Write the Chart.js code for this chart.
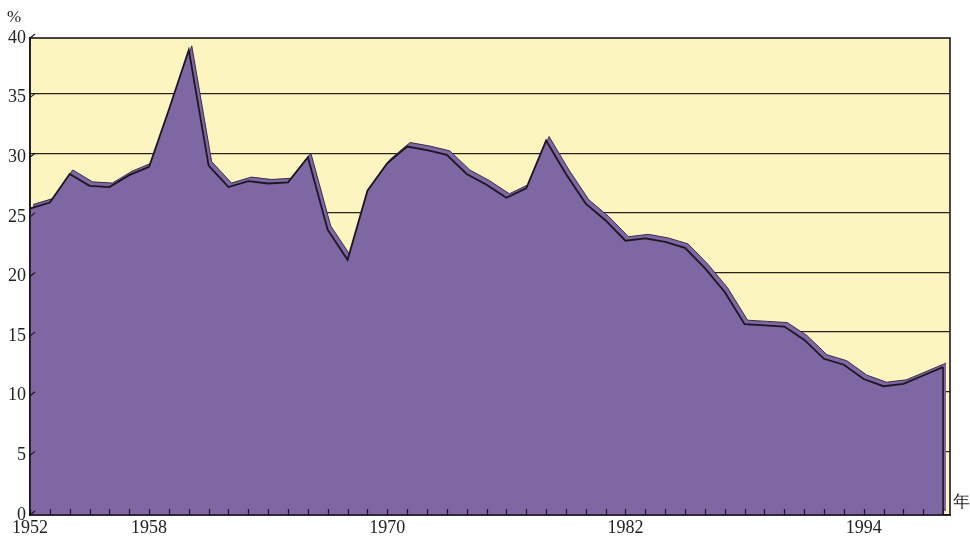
<!DOCTYPE html>
<html>
<head>
<meta charset="utf-8">
<script src="https://cdn.jsdelivr.net/npm/chart.js@4"></script>
<style>
	html, body { margin: 0; padding: 0; background: #ffffff; }
	#wrap { width: 970px; height: 539px; }
</style>
</head>
<body>
<div id="wrap"><canvas id="myChart" width="970" height="539"></canvas></div>
<script>
var years = [1952, 1953, 1954, 1955, 1956, 1957, 1958, 1959, 1960, 1961, 1962, 1963, 1964, 1965, 1966, 1967,
	1968, 1969, 1970, 1971, 1972, 1973, 1974, 1975, 1976, 1977, 1978, 1979, 1980, 1981, 1982, 1983,
	1984, 1985, 1986, 1987, 1988, 1989, 1990, 1991, 1992, 1993, 1994, 1995, 1996, 1997, 1998];
var rate = [25.7, 26.2, 28.6, 27.6, 27.5, 28.5, 29.2, 34.0, 39.0, 29.3, 27.5, 28.0, 27.8, 27.9, 30.0, 23.9,
	21.4, 27.2, 29.5, 30.9, 30.6, 30.2, 28.6, 27.7, 26.6, 27.4, 31.4, 28.6, 26.1, 24.7, 23.0, 23.2,
	22.9, 22.4, 20.7, 18.7, 16.0, 15.9, 15.8, 14.7, 13.1, 12.6, 11.4, 10.8, 11.0, 11.7, 12.4];
var labelYears = [1952, 1958, 1970, 1982, 1994];
var yTicks = [0, 5, 10, 15, 20, 25, 30, 35, 40];
var gridValues = [5, 10, 15, 20, 25, 30, 35];
var unitY = "%";
var unitX = "年";

var purple = "#7e67a2";
var paper = "#fcf5bf";
var ink = "#1c1622";
var serif = "'Liberation Serif', 'DejaVu Serif', serif";

// 3D depth of the back layer in pixels (right, up)
var depthX = 3;
var depthY = 4;

let points = years.map(function (y, i) {
	return { x: y, y: rate[i] };
});

var framePlugin = {
	id: "frame",
	beforeDraw: function (chart) {
		var a = chart.chartArea;
		var ctx = chart.ctx;
		ctx.save();
		ctx.fillStyle = paper;
		ctx.fillRect(a.left, a.top, a.right - a.left, a.bottom - a.top);
		ctx.restore();
	},
	afterDatasetsDraw: function (chart) {
		var a = chart.chartArea;
		var ctx = chart.ctx;
		var xs = chart.scales.x;
		var ys = chart.scales.y;
		ctx.save();
		ctx.strokeStyle = ink;
		ctx.lineWidth = 1.2;
		ctx.beginPath();
		xs.ticks.forEach(function (t) {
			var px = Math.round(xs.getPixelForValue(t.value)) + 0.5;
			ctx.moveTo(px, a.bottom);
			ctx.lineTo(px, a.bottom - 6);
		});
		ys.ticks.forEach(function (t) {
			var py = ys.getPixelForValue(t.value);
			ctx.moveTo(a.left, py);
			ctx.lineTo(a.left + depthX + 2, py - depthY);
		});
		ctx.stroke();
		// closing edge of the front face
		var last = points[points.length - 1];
		var ex = xs.getPixelForValue(last.x);
		ctx.lineWidth = 1.6;
		ctx.beginPath();
		ctx.moveTo(ex, ys.getPixelForValue(last.y));
		ctx.lineTo(ex, a.bottom);
		ctx.stroke();
		ctx.strokeRect(a.left, a.top, a.right - a.left, a.bottom - a.top);
		ctx.fillStyle = "#222";
		ctx.font = "17px " + serif;
		ctx.textAlign = "left";
		ctx.textBaseline = "middle";
		ctx.fillText(unitY, 7, 18);
		ctx.fillText(unitX, a.right + 3, a.bottom - 12);
		ctx.restore();
	}
};

let chartCtx = document.querySelector("#myChart").getContext("2d");
let rateChart = new Chart(chartCtx, {
	type: "line",
	data: {
		datasets: [
			{
				label: "front",
				data: points,
				xAxisID: "x",
				yAxisID: "y",
				order: 1,
				fill: "origin",
				backgroundColor: purple,
				borderColor: ink,
				borderWidth: 1.8,
				pointRadius: 0,
				tension: 0
			},
			{
				label: "back",
				data: points,
				xAxisID: "x2",
				yAxisID: "y2",
				order: 2,
				fill: "origin",
				backgroundColor: purple,
				borderColor: "#3b2c4c",
				borderWidth: 1,
				pointRadius: 0,
				tension: 0
			}
		]
	},
	options: {
		responsive: false,
		animation: false,
		layout: { padding: { top: 38, right: 20, left: 0, bottom: 0 } },
		plugins: {
			legend: { display: false },
			tooltip: { enabled: false }
		},
		scales: {
			x: {
				type: "linear",
				min: 1952,
				max: 1998.35,
				afterBuildTicks: function (s) {
					s.ticks = years.map(function (y) {
						return { value: y };
					});
				},
				afterFit: function (s) {
					s.height = 24;
				},
				grid: { display: false, drawTicks: false },
				border: { display: true, color: ink, width: 1.6 },
				ticks: {
					autoSkip: false,
					maxRotation: 0,
					padding: 2,
					color: "#222",
					font: { family: serif, size: 18 },
					callback: function (v) {
						return labelYears.indexOf(v) >= 0 ? String(v) : "";
					}
				}
			},
			y: {
				min: 0,
				max: 40,
				afterBuildTicks: function (s) {
					s.ticks = yTicks.map(function (v) {
						return { value: v };
					});
				},
				afterFit: function (s) {
					s.width = 30;
				},
				grid: { display: false, drawTicks: false },
				border: { display: true, color: ink, width: 1.6 },
				ticks: {
					padding: 4,
					color: "#222",
					font: { family: serif, size: 18 }
				}
			},
			x2: {
				type: "linear",
				display: false,
				min: 1952 - depthX / 19.85,
				max: 1998.35 - depthX / 19.85
			},
			y2: {
				position: "left",
				min: -depthY / 11.93,
				max: 40 - depthY / 11.93,
				afterBuildTicks: function (s) {
					s.ticks = gridValues.map(function (v) {
						return { value: v };
					});
				},
				afterFit: function (s) {
					s.width = 0;
				},
				border: { display: false },
				grid: { color: "#2a2418", lineWidth: 1.3, drawTicks: false },
				ticks: { display: false }
			}
		}
	},
	plugins: [framePlugin]
});
</script>
</body>
</html>
